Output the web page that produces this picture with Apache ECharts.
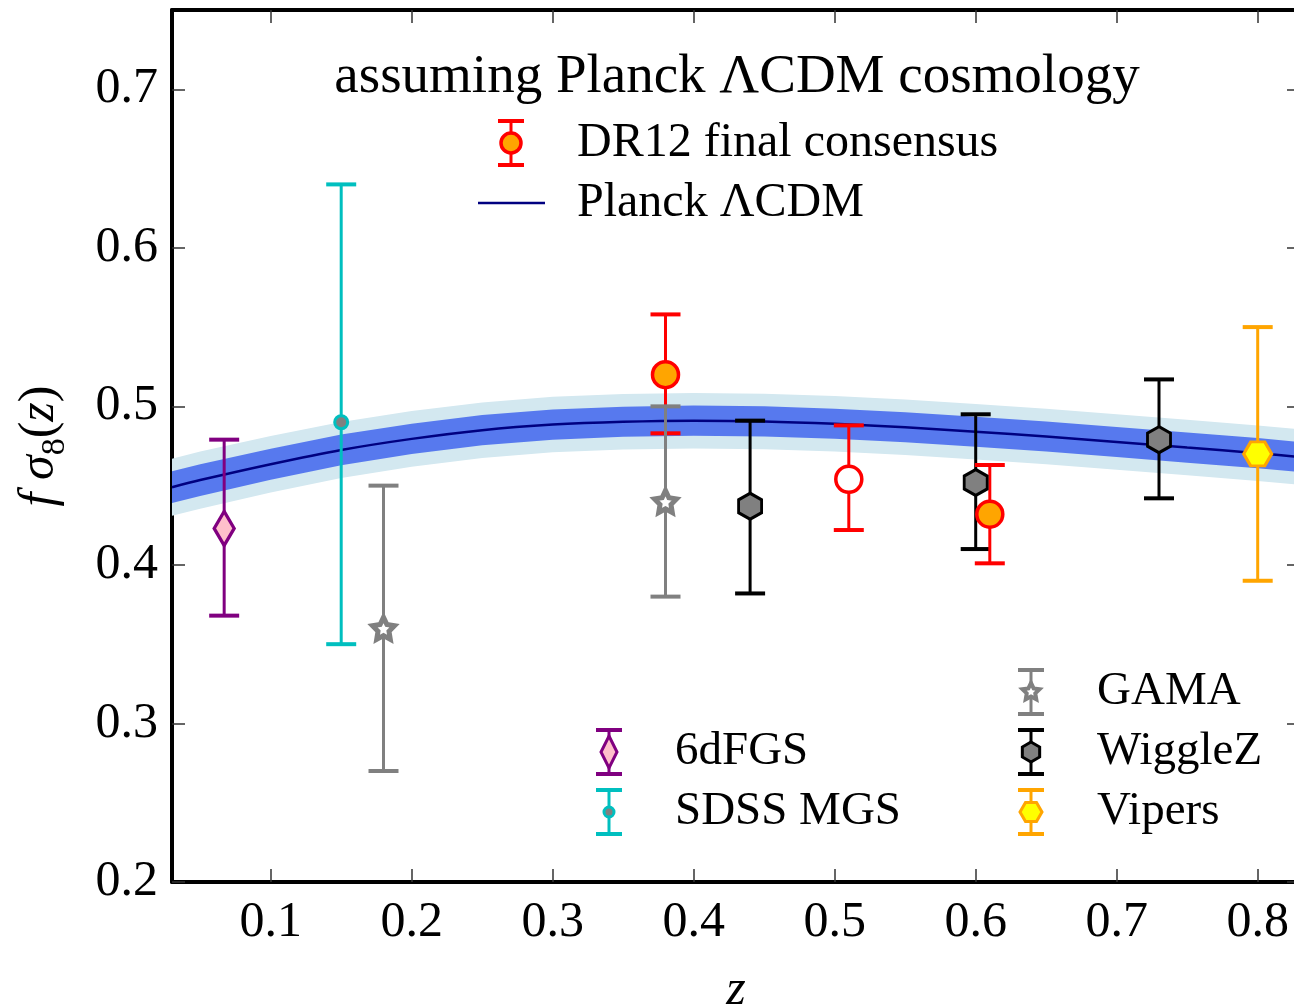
<!DOCTYPE html>
<html>
<head>
    <meta charset="utf-8">
    <title>f sigma8 (z)</title>
    <script src="https://cdn.jsdelivr.net/npm/echarts@6/dist/echarts.min.js"></script>
    <style>
        html, body { margin: 0; padding: 0; background: #fff; }
        #main { width: 1294px; height: 1008px; }
    </style>
</head>
<body>
<div id="main"></div>
<script type="text/javascript">
    // ---- data ----
    var xTicks = [0.1, 0.2, 0.3, 0.4, 0.5, 0.6, 0.7, 0.8];
    var yTicks = [0.2, 0.3, 0.4, 0.5, 0.6, 0.7];

    // Planck LCDM prediction and its 1/2 sigma bands
    var planckZ = [0.03, 0.05, 0.1, 0.15, 0.2, 0.25, 0.3, 0.35, 0.4, 0.45, 0.5, 0.55, 0.6, 0.65, 0.7, 0.75, 0.8, 0.83];
    var planckF = [0.449, 0.4535, 0.4635, 0.4725, 0.4795, 0.485, 0.4885, 0.4903, 0.491, 0.4905, 0.489, 0.4868, 0.484, 0.481, 0.4775, 0.474, 0.4705, 0.468];
    var planckErr1 = [0.0100, 0.0100, 0.0098, 0.0097, 0.0096, 0.0095, 0.0095, 0.0095, 0.0095, 0.0095, 0.0095, 0.0095, 0.0095, 0.0095, 0.0095, 0.0095, 0.0095, 0.0095];
    var planckErr2 = [0.0180, 0.0180, 0.0178, 0.0177, 0.0176, 0.0175, 0.0175, 0.0175, 0.0175, 0.0175, 0.0175, 0.0175, 0.0175, 0.0175, 0.0175, 0.0175, 0.0175, 0.0175];

    // measurements: z, f*sigma8, lower end, upper end
    var sixdfZ = [0.067];
    var sixdfF = [0.423];
    var sixdfLo = [0.368];
    var sixdfHi = [0.479];

    var mgsZ = [0.15];
    var mgsF = [0.49];
    var mgsLo = [0.35];
    var mgsHi = [0.64];

    var gamaZ = [0.18, 0.38];
    var gamaF = [0.36, 0.44];
    var gamaLo = [0.27, 0.38];
    var gamaHi = [0.45, 0.50];

    var wigZ = [0.44, 0.60, 0.73];
    var wigF = [0.437, 0.452, 0.479];
    var wigLo = [0.382, 0.410, 0.442];
    var wigHi = [0.491, 0.495, 0.517];

    var vipZ = [0.80];
    var vipF = [0.47];
    var vipLo = [0.39];
    var vipHi = [0.55];

    var dr12Z = [0.38, 0.51, 0.61];
    var dr12F = [0.520, 0.454, 0.432];
    var dr12Lo = [0.483, 0.422, 0.401];
    var dr12Hi = [0.558, 0.488, 0.463];

    // ---- helpers ----
    var FONT = '"Liberation Serif", "DejaVu Serif", serif';

    function zip4(a, b, c, d) {
        var out = [];
        for (var i = 0; i < a.length; i++) out.push([a[i], b[i], c[i], d[i]]);
        return out;
    }

    function polyPath(pts) {
        var s = 'path://';
        for (var i = 0; i < pts.length; i++) {
            s += (i === 0 ? 'M' : 'L') + pts[i][0].toFixed(3) + ',' + pts[i][1].toFixed(3) + ' ';
        }
        return s + 'Z';
    }

    function starPts(r, rIn, cx, cy) {
        var pts = [];
        for (var i = 0; i < 10; i++) {
            var a = -Math.PI / 2 + i * Math.PI / 5;
            var rr = i % 2 === 0 ? r : rIn;
            pts.push([cx + rr * Math.cos(a), cy + rr * Math.sin(a)]);
        }
        return pts;
    }

    function hexPts(r, cx, cy, pointyTop) {
        var pts = [];
        for (var i = 0; i < 6; i++) {
            var a = (pointyTop ? -Math.PI / 2 : 0) + i * Math.PI / 3;
            pts.push([cx + r * Math.cos(a), cy + r * Math.sin(a)]);
        }
        return pts;
    }

    var starSymbol = polyPath(starPts(1, 0.5, 0, 0));
    var hexSymbol = polyPath(hexPts(1, 0, 0, true));
    var hexFlatSymbol = polyPath(hexPts(1, 0, 0, false));

    function errorBarSeries(name, data, color) {
        return {
            name: name,
            type: 'custom',
            z: 3,
            data: data,
            encode: {x: 0, y: 1},
            renderItem: function (params, api) {
                var top = api.coord([api.value(0), api.value(3)]);
                var bot = api.coord([api.value(0), api.value(2)]);
                var hw = 15;
                return {
                    type: 'group',
                    children: [
                        {type: 'line', shape: {x1: top[0], y1: top[1], x2: bot[0], y2: bot[1]}, style: {stroke: color, lineWidth: 3}},
                        {type: 'line', shape: {x1: top[0] - hw, y1: top[1], x2: top[0] + hw, y2: top[1]}, style: {stroke: color, lineWidth: 4}},
                        {type: 'line', shape: {x1: bot[0] - hw, y1: bot[1], x2: bot[0] + hw, y2: bot[1]}, style: {stroke: color, lineWidth: 4}}
                    ]
                };
            }
        };
    }

    function markerSeries(name, data, symbol, size, fill, edge, bw) {
        return {
            name: name,
            type: 'scatter',
            z: 4,
            symbol: symbol,
            symbolSize: size,
            data: data,
            itemStyle: {color: fill, borderColor: edge, borderWidth: bw, opacity: 1}
        };
    }

    function bandSeries(err, color) {
        return {
            type: 'custom',
            z: 1,
            silent: true,
            clip: true,
            data: [[planckZ[0], planckF[0]]],
            encode: {x: 0, y: 1},
            renderItem: function (params, api) {
                var pts = [];
                for (var i = 0; i < planckZ.length; i++) pts.push(api.coord([planckZ[i], planckF[i] + err[i]]));
                for (var j = planckZ.length - 1; j >= 0; j--) pts.push(api.coord([planckZ[j], planckF[j] - err[j]]));
                return {type: 'polygon', shape: {points: pts}, style: {fill: color}};
            }
        };
    }

    // legend icon: error bar with marker, drawn as graphic
    function legendIcon(cx, cy, color, marker) {
        var hh = 22, hw = 13;
        return [
            {type: 'line', shape: {x1: cx, y1: cy - hh, x2: cx, y2: cy + hh}, style: {stroke: color, lineWidth: 3}, z: 10},
            {type: 'line', shape: {x1: cx - hw, y1: cy - hh, x2: cx + hw, y2: cy - hh}, style: {stroke: color, lineWidth: 4}, z: 10},
            {type: 'line', shape: {x1: cx - hw, y1: cy + hh, x2: cx + hw, y2: cy + hh}, style: {stroke: color, lineWidth: 4}, z: 10},
            marker
        ];
    }

    function legendText(x, y, txt, size) {
        return {
            type: 'text', x: x, y: y, z: 10,
            style: {text: txt, font: size + 'px ' + FONT, fill: '#000', textAlign: 'left', textVerticalAlign: 'middle', align: 'left', verticalAlign: 'middle'}
        };
    }

    function polyEl(pts, fill, stroke, lw) {
        return {type: 'polygon', z: 11, shape: {points: pts}, style: {fill: fill, stroke: stroke, lineWidth: lw}};
    }

    var graphics = [];
    graphics.push({
        type: 'text', x: 737, y: 78, z: 10,
        style: {text: 'assuming Planck \u039BCDM cosmology', font: '55px ' + FONT, fill: '#000',
            textAlign: 'center', textVerticalAlign: 'middle', align: 'center', verticalAlign: 'middle'}
    });
    // DR12
    graphics = graphics.concat(legendIcon(511, 143, '#ff0000',
        {type: 'circle', z: 11, shape: {cx: 511, cy: 143, r: 10}, style: {fill: '#ffa500', stroke: '#ff0000', lineWidth: 3.5}}));
    graphics.push(legendText(577, 143, 'DR12 final consensus', 48));
    // Planck line
    graphics.push({type: 'line', z: 10, shape: {x1: 478, y1: 203, x2: 545, y2: 203}, style: {stroke: '#000080', lineWidth: 2.5}});
    graphics.push(legendText(577, 203, 'Planck \u039BCDM', 48));
    // 6dFGS
    graphics = graphics.concat(legendIcon(609, 752, '#800080',
        polyEl([[609, 736], [617, 752], [609, 768], [601, 752]], '#ffc0cb', '#800080', 3)));
    graphics.push(legendText(675, 752, '6dFGS', 47));
    // SDSS MGS
    graphics = graphics.concat(legendIcon(609, 812, '#00bfbf',
        {type: 'circle', z: 11, shape: {cx: 609, cy: 812, r: 5}, style: {fill: '#808080', stroke: '#00bfbf', lineWidth: 3}}));
    graphics.push(legendText(675, 812, 'SDSS MGS', 47));
    // GAMA
    graphics = graphics.concat(legendIcon(1031, 692, '#808080',
        polyEl(starPts(9, 4.5, 1031, 692), '#ffffff', '#808080', 4)));
    graphics.push(legendText(1097, 692, 'GAMA', 47));
    // WiggleZ
    graphics = graphics.concat(legendIcon(1031, 752, '#000000',
        polyEl(hexPts(10, 1031, 752, true), '#808080', '#000000', 3)));
    graphics.push(legendText(1097, 752, 'WiggleZ', 47));
    // Vipers
    graphics = graphics.concat(legendIcon(1031, 812, '#ffa500',
        polyEl(hexPts(11, 1031, 812, false), '#ffff00', '#ffa500', 3)));
    graphics.push(legendText(1097, 812, 'Vipers', 47));

    var chartDom = document.getElementById('main');
    var myChart = echarts.init(chartDom, null, {renderer: 'canvas'});

    var tickStyle = {inside: true, length: 13, lineStyle: {color: '#333', width: 1.5}};
    var axisLineStyle = {show: true, onZero: false, lineStyle: {color: '#000', width: 4}};

    var dr12Data = zip4(dr12Z, dr12F, dr12Lo, dr12Hi).map(function (d, i) {
        // the middle DR12 point is drawn as an open circle
        return i === 1 ? {value: d, itemStyle: {color: '#ffffff'}} : {value: d};
    });

    var option = {
        animation: false,
        backgroundColor: '#fff',
        grid: {left: 172, top: 10, width: 1128, height: 872, containLabel: false, outerBoundsMode: 'none'},
        xAxis: [{
            type: 'value', min: 0.03, max: 0.83, position: 'bottom',
            axisLine: axisLineStyle,
            axisTick: Object.assign({customValues: xTicks}, tickStyle),
            axisLabel: {customValues: xTicks, formatter: function (v) { return v.toFixed(1); },
                fontFamily: FONT, fontSize: 50, color: '#000', margin: 16},
            splitLine: {show: false},
            name: 'z', nameLocation: 'middle', nameGap: 84,
            nameTextStyle: {fontFamily: FONT, fontSize: 50, fontStyle: 'italic', color: '#000'}
        }, {
            type: 'value', min: 0.03, max: 0.83, position: 'top',
            axisLine: axisLineStyle,
            axisTick: Object.assign({customValues: xTicks}, tickStyle),
            axisLabel: {show: false},
            splitLine: {show: false}
        }],
        yAxis: [{
            type: 'value', min: 0.2, max: 0.75, position: 'left',
            axisLine: axisLineStyle,
            axisTick: Object.assign({customValues: yTicks}, tickStyle),
            axisLabel: {customValues: yTicks, formatter: function (v) { return v.toFixed(1); },
                fontFamily: FONT, fontSize: 50, color: '#000', margin: 14},
            splitLine: {show: false},
            name: '{i|f \u03C3}{s|8}{r|(}{i|z}{r|)}', nameLocation: 'middle', nameRotate: 90, nameGap: 100,
            nameTextStyle: {
                fontFamily: FONT, fontSize: 50, color: '#000',
                rich: {
                    i: {fontFamily: FONT, fontSize: 50, fontStyle: 'italic', lineHeight: 64, color: '#000'},
                    r: {fontFamily: FONT, fontSize: 50, lineHeight: 64, color: '#000'},
                    s: {fontFamily: FONT, fontSize: 34, lineHeight: 34, verticalAlign: 'bottom', color: '#000'}
                }
            }
        }, {
            type: 'value', min: 0.2, max: 0.75, position: 'right',
            axisLine: axisLineStyle,
            axisTick: Object.assign({customValues: yTicks}, tickStyle),
            axisLabel: {show: false},
            splitLine: {show: false}
        }],
        graphic: {elements: graphics},
        series: [
            bandSeries(planckErr2, '#d3e8f0'),
            bandSeries(planckErr1, '#5779ee'),
            {
                name: 'Planck LCDM', type: 'line', z: 2, silent: true,
                showSymbol: false, smooth: 0.3,
                data: planckZ.map(function (z, i) { return [z, planckF[i]]; }),
                lineStyle: {color: '#000080', width: 2.5}
            },
            errorBarSeries('6dFGS', zip4(sixdfZ, sixdfF, sixdfLo, sixdfHi), '#800080'),
            errorBarSeries('SDSS MGS', zip4(mgsZ, mgsF, mgsLo, mgsHi), '#00bfbf'),
            errorBarSeries('WiggleZ', zip4(wigZ, wigF, wigLo, wigHi), '#000000'),
            errorBarSeries('Vipers', zip4(vipZ, vipF, vipLo, vipHi), '#ffa500'),
            errorBarSeries('DR12', zip4(dr12Z, dr12F, dr12Lo, dr12Hi), '#ff0000'),
            errorBarSeries('GAMA', zip4(gamaZ, gamaF, gamaLo, gamaHi), '#808080'),
            markerSeries('6dFGS', zip4(sixdfZ, sixdfF, sixdfLo, sixdfHi), 'diamond', [20, 34], '#ffc0cb', '#800080', 3.5),
            markerSeries('SDSS MGS', zip4(mgsZ, mgsF, mgsLo, mgsHi), 'circle', 13, '#808080', '#00bfbf', 3),
            markerSeries('GAMA', zip4(gamaZ, gamaF, gamaLo, gamaHi), starSymbol, 22, '#ffffff', '#808080', 5),
            markerSeries('WiggleZ', zip4(wigZ, wigF, wigLo, wigHi), hexSymbol, [23, 26], '#808080', '#000000', 3),
            markerSeries('Vipers', zip4(vipZ, vipF, vipLo, vipHi), hexFlatSymbol, [28, 24], '#ffff00', '#ffa500', 3),
            markerSeries('DR12', dr12Data, 'circle', 26, '#ffa500', '#ff0000', 3.5)
        ]
    };

    option && myChart.setOption(option);
</script>
</body>
</html>
